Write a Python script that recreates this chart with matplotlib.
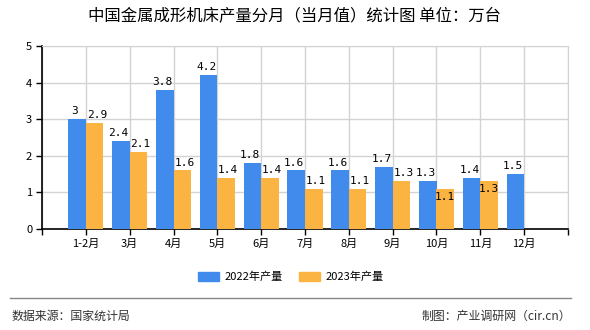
import numpy as np
import matplotlib
matplotlib.use("Agg")
import matplotlib.pyplot as plt
from matplotlib.patches import Patch
from matplotlib.lines import Line2D

plt.rcParams['font.family'] = ['Noto Sans CJK SC', 'DejaVu Sans']

# 数据
months = ["1-2月", "3月", "4月", "5月", "6月", "7月", "8月", "9月", "10月", "11月", "12月"]
prod_2022 = [3, 2.4, 3.8, 4.2, 1.8, 1.6, 1.6, 1.7, 1.3, 1.4, 1.5]
prod_2023 = [2.9, 2.1, 1.6, 1.4, 1.4, 1.1, 1.1, 1.3, 1.1, 1.3, None]
label_2022 = "2022年产量"
label_2023 = "2023年产量"

C_BLUE = "#418bec"
C_ORANGE = "#fbb341"

fig = plt.figure(figsize=(5.9, 3.3), dpi=100)
ax = fig.add_axes([42 / 590, 101 / 330, 526 / 590, 183 / 330])

x = np.arange(1, len(months) + 1)
w = 0.4
ax.bar(x - w / 2, prod_2022, width=w, color=C_BLUE, zorder=3)
v23 = [v if v is not None else np.nan for v in prod_2023]
ax.bar(x + w / 2, v23, width=w, color=C_ORANGE, zorder=3)

lab_font = dict(fontsize=8, family=["DejaVu Sans Mono"], color="black", zorder=4)
for xi, v in zip(x, prod_2022):
    ax.text(xi - w / 2 - 0.05, v + 0.08, f"{v:g}", ha="center", va="bottom", **lab_font)
for i, (xi, v) in enumerate(zip(x, prod_2023)):
    if v is None:
        continue
    if months[i] in ("10月", "11月"):
        ax.text(xi + w / 2, v - 0.22, f"{v:g}", ha="center", va="center", **lab_font)
    else:
        ax.text(xi + w / 2 + 0.05, v + 0.08, f"{v:g}", ha="center", va="bottom", **lab_font)

ax.set_xlim(0, len(months) + 1)
ax.set_ylim(0, 5)
ax.set_xticks(np.arange(0, len(months) + 2))
ax.set_xticklabels([""] + months + [""], fontsize=8)
ax.set_yticks(range(0, 6))
ax.set_yticklabels([str(i) for i in range(6)], fontsize=8)
ax.tick_params(axis="both", direction="out", length=4, width=1, color="black", pad=3)
ax.grid(True, color="#d3d3d3", linewidth=1, zorder=0)
ax.spines["top"].set_color("#d3d3d3")
ax.spines["right"].set_color("#d3d3d3")
ax.spines["left"].set_color("black")
ax.spines["bottom"].set_color("black")
ax.spines["left"].set_linewidth(1.2)
ax.spines["bottom"].set_linewidth(1.2)

fig.text(294 / 590, 1 - 17 / 330, "中国金属成形机床产量分月（当月值）统计图 单位：万台",
         ha="center", va="center", fontsize=11.8)

handles = [Patch(color=C_BLUE, label=label_2022), Patch(color=C_ORANGE, label=label_2023)]
fig.legend(handles=handles, loc="center", bbox_to_anchor=(291 / 590, 1 - 277 / 330), ncol=2,
           frameon=False, fontsize=8, handlelength=1.9, handleheight=0.8, columnspacing=1.4,
           handletextpad=0.5)

fig.add_artist(Line2D([10 / 590, 571 / 590], [1 - 298 / 330, 1 - 298 / 330],
                      color="#888888", linewidth=1))
fig.text(12 / 590, 1 - 316 / 330, "数据来源：国家统计局", ha="left", va="center",
         fontsize=8.6, color="#333333")
fig.text(571 / 590, 1 - 316 / 330, "制图：产业调研网（cir.cn）", ha="right", va="center",
         fontsize=8.6, color="#333333")

fig.savefig("out.png", dpi=100)
